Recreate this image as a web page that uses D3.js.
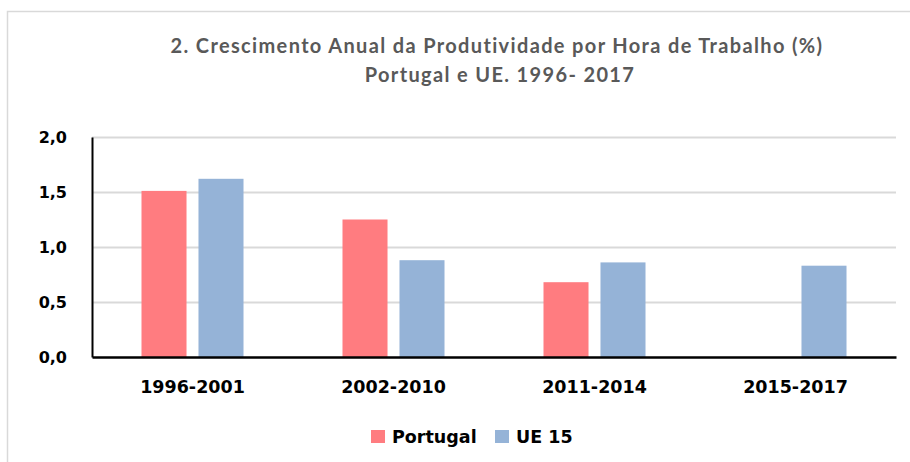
<!DOCTYPE html>
<html>
<head>
<meta charset="utf-8">
<script src="https://cdn.jsdelivr.net/npm/d3@7"></script>
<style>
  body { margin: 0; background: #fff; }
  svg { display: block; }
</style>
</head>
<body>
<div id="chart"></div>
<script>
// Data
const categories = ["1996-2001", "2002-2010", "2011-2014", "2015-2017"];
const seriesNames = ["Portugal", "UE 15"];
const portugal = [1.51, 1.25, 0.68, null];
const ue15 = [1.62, 0.88, 0.86, 0.83];
const yTicks = [0, 0.5, 1.0, 1.5, 2.0];

const width = 910, height = 462;
const margin = {top: 137, right: 14, bottom: 105, left: 92};

const color = d3.scaleOrdinal()
  .domain(seriesNames)
  .range(["#FF7C80", "#95B3D7"]);

const rows = categories.map((c, i) => ({cat: c, values: [
  {key: "Portugal", value: portugal[i]},
  {key: "UE 15", value: ue15[i]}
]}));

const svg = d3.select("#chart").append("svg")
  .attr("width", width)
  .attr("height", height);

// chart border
svg.append("rect")
  .attr("x", 7.5).attr("y", 11.5)
  .attr("width", width).attr("height", height)
  .attr("fill", "none")
  .attr("stroke", "#d9d9d9")
  .attr("stroke-width", 1.5);

// Title
const title = svg.append("text")
  .attr("text-anchor", "middle")
  .style("font-family", "Lato, sans-serif")
  .style("font-weight", "bold")
  .style("font-size", "20px")
  .style("letter-spacing", "1.35px")
  .style("font-variant-ligatures", "none")
  .attr("fill", "#595959");
title.append("tspan").attr("x", 497).attr("y", 53)
  .text("2. Crescimento Anual da Produtividade por Hora de Trabalho (%)");
title.append("tspan").attr("x", 500).attr("y", 82)
  .text("Portugal e UE. 1996- 2017");

// Scales
const pad = 0.4925;
const x0 = d3.scaleBand()
  .domain(categories)
  .range([margin.left, width - margin.right])
  .paddingInner(pad)
  .paddingOuter(pad / 2);

const x1 = d3.scaleBand()
  .domain(seriesNames)
  .range([0, x0.bandwidth()])
  .paddingInner(0.21);

const y = d3.scaleLinear()
  .domain([0, 2])
  .range([height - margin.bottom, margin.top]);

const fmt = v => d3.format(".1f")(v).replace(".", ",");

// gridlines
svg.append("g")
  .attr("class", "grid")
  .selectAll("line")
  .data(yTicks.filter(d => d > 0))
  .join("line")
  .attr("x1", margin.left)
  .attr("x2", width - margin.right)
  .attr("y1", d => Math.round(y(d)) + 0.5)
  .attr("y2", d => Math.round(y(d)) + 0.5)
  .attr("stroke", "#d9d9d9")
  .attr("stroke-width", 2);

// bars
svg.append("g")
  .selectAll("g")
  .data(rows)
  .join("g")
  .attr("transform", d => `translate(${x0(d.cat)},0)`)
  .selectAll("rect")
  .data(d => d.values.filter(v => v.value != null))
  .join("rect")
  .attr("x", d => x1(d.key))
  .attr("width", x1.bandwidth())
  .attr("y", d => y(d.value))
  .attr("height", d => y(0) - y(d.value))
  .attr("fill", d => color(d.key));

// y axis
const yAxis = svg.append("g")
  .attr("transform", `translate(${margin.left},0)`)
  .call(d3.axisLeft(y).tickValues(yTicks).tickFormat(fmt).tickSize(0).tickPadding(25));
yAxis.select(".domain").attr("stroke", "#000").attr("stroke-width", 2);
yAxis.selectAll("text")
  .style("font-family", "'DejaVu Sans', sans-serif")
  .style("font-weight", "bold")
  .style("font-size", "16px")
  .attr("fill", "#000");

// x axis
const xAxis = svg.append("g")
  .attr("transform", `translate(0,${y(0)})`)
  .call(d3.axisBottom(x0).tickSize(0).tickPadding(24));
xAxis.select(".domain").attr("stroke", "#000").attr("stroke-width", 2.5);
xAxis.selectAll("text")
  .style("font-family", "'DejaVu Sans', sans-serif")
  .style("font-weight", "bold")
  .style("font-size", "17.5px")
  .attr("fill", "#000");

// legend
const legendX = [371, 495];
const legend = svg.append("g")
  .selectAll("g")
  .data(seriesNames)
  .join("g")
  .attr("transform", (d, i) => `translate(${legendX[i]},430)`);
legend.append("rect")
  .attr("width", 14).attr("height", 13)
  .attr("fill", d => color(d));
legend.append("text")
  .attr("x", 21).attr("y", 13)
  .style("font-family", "'DejaVu Sans', sans-serif")
  .style("font-weight", "bold")
  .style("font-size", "17.5px")
  .attr("fill", "#000")
  .text(d => d);
</script>
</body>
</html>
